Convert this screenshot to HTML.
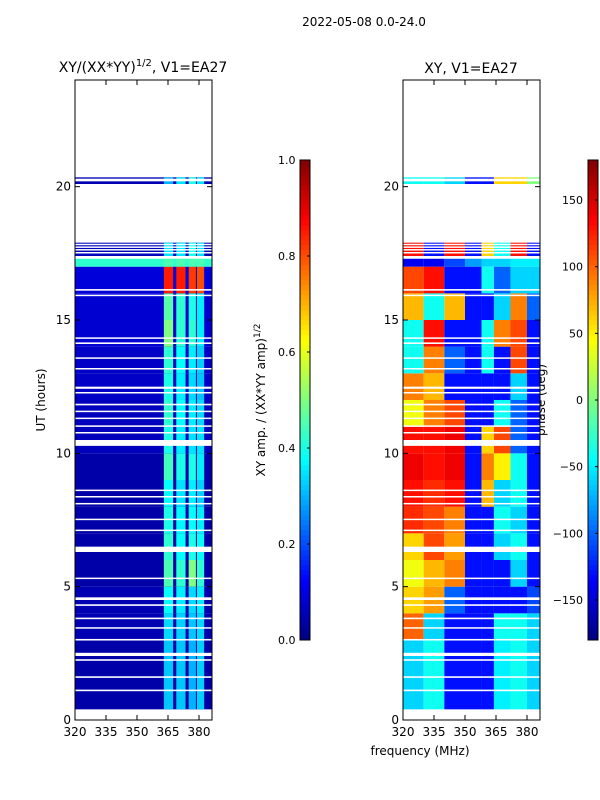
<!DOCTYPE html>
<html><head><meta charset="utf-8"><style>
body{margin:0;background:#fff;}
svg{display:block;font-family:"DejaVu Sans","Liberation Sans",sans-serif;}
</style></head><body>
<svg id="fig" width="600" height="800" viewBox="0 0 600 800">
<rect width="600" height="800" fill="#fff"/>
<text x="364" y="26" font-size="12" text-anchor="middle">2022-05-08 0.0-24.0</text>
<text x="143" y="72" font-size="14" text-anchor="middle">XY/(XX*YY)<tspan font-size="10" dy="-6">1/2</tspan><tspan dy="6">, V1=EA27</tspan></text>
<text x="471" y="73" font-size="14" text-anchor="middle">XY, V1=EA27</text>
<text transform="translate(45,400) rotate(-90)" font-size="12" text-anchor="middle">UT (hours)</text>
<text x="420" y="755" font-size="12" text-anchor="middle">frequency (MHz)</text>
<text transform="translate(265,400) rotate(-90)" font-size="12" text-anchor="middle">XY amp. / (XX*YY amp)<tspan font-size="9" dy="-5">1/2</tspan></text>
<text transform="translate(545,400) rotate(-90)" font-size="12" text-anchor="middle">phase (deg)</text>
<g id="left"></g>
<g id="right"></g>
<g id="cbl"></g>
<g id="cbr"></g>
</svg>
<script>
// time rows (hours) [start,end]
const timeRows=[[0.4,3],[3,4],[4,5],[5,6],[6,7],[7,8],[8,9],[9,10],[10,11],[11,12],[12,13],[13,14],[14,15],[15,16],[16,17],[17,17.3],[17.4,17.9],[20.1,20.35]];
// amplitude panel
const ampBase=[0.04,0.05,0.05,0.04,0.04,0.04,0.04,0.04,0.06,0.06,0.07,0.07,0.08,0.08,0.09,0.42,0.06,0.05];
const ampBands=[[363,367.5],[369,373.5],[375,378.5],[379,382.5]];
const ampBandVals=[
[0.32,0.32,0.3,0.33],[0.34,0.33,0.32,0.34],[0.38,0.36,0.34,0.36],[0.45,0.42,0.5,0.42],[0.42,0.38,0.4,0.38],
[0.4,0.37,0.38,0.36],[0.38,0.35,0.36,0.33],[0.44,0.4,0.4,0.36],[0.4,0.36,0.35,0.35],[0.42,0.38,0.36,0.34],
[0.4,0.36,0.34,0.32],[0.42,0.38,0.36,0.33],[0.5,0.42,0.42,0.36],[0.46,0.42,0.4,0.36],[0.85,0.85,0.82,0.8],
[0.45,0.45,0.45,0.45],[0.35,0.35,0.4,0.35],[0.3,0.35,0.4,0.35]];
// phase panel
const phaseFreqEdges=[320,330,340,350,358,364,372,380,386.3];
const phaseVals=[
[-60,-40,-130,-130,-130,-50,-40,-60],[100,-60,-130,-130,-130,-40,-40,-60],[60,80,-100,-130,-130,-130,-130,-110],
[40,70,90,-130,-130,-130,-60,-130],[60,110,80,-130,-130,-60,-40,-130],[120,110,90,-130,-130,-40,-60,-130],
[130,120,130,-130,70,-60,-40,-130],[140,130,140,-130,90,50,-40,-130],[130,130,140,-130,60,110,-100,-130],
[40,90,110,-130,-130,-40,-100,-130],[90,70,-130,-130,-130,-130,-60,-130],[-40,90,-100,-130,-40,-130,110,-130],
[-40,130,-130,-130,-40,90,110,-130],[70,-40,70,-130,-130,-60,90,-100],[110,130,-130,-130,-40,-100,-60,-60],
[-140,-140,-110,-80,-60,-60,-50,-50],[130,-130,130,-130,60,-40,130,-130],[-40,-40,-60,-130,-130,60,60,0]];
// gaps (white, no data) [start,end] hours
const gaps=[[1.08,1.14],[1.58,1.64],[2.22,2.28],[2.4,2.52],[2.98,3.04],[3.43,3.48],[3.78,3.84],[4.28,4.34],[4.5,4.6],[5.3,5.34],[6.3,6.5],[7.1,7.14],[7.5,7.55],[8.1,8.14],[8.35,8.4],[8.6,8.64],[10.28,10.5],[10.75,10.8],[11.0,11.05],[11.3,11.34],[11.55,11.6],[11.8,11.86],[12.25,12.3],[12.42,12.5],[13.15,13.2],[13.55,13.6],[14.1,14.16],[14.3,14.35],[15.9,15.95],[16.1,16.16],[17.3,17.4],[17.5,17.55],[17.62,17.66],[17.72,17.76],[17.82,17.86],[20.2,20.3]];
const yTicks=[0,5,10,15,20];
const xTicks=[320,335,350,365,380];
const ampTicks=[0.0,0.2,0.4,0.6,0.8,1.0];
const phaseTicks=[-150,-100,-50,0,50,100,150];

const NS='http://www.w3.org/2000/svg';
function jet(v){v=Math.max(0,Math.min(1,v));
 const r=Math.max(0,Math.min(1,1.5-Math.abs(4*v-3))),g=Math.max(0,Math.min(1,1.5-Math.abs(4*v-2))),b=Math.max(0,Math.min(1,1.5-Math.abs(4*v-1)));
 return `rgb(${Math.round(r*255)},${Math.round(g*255)},${Math.round(b*255)})`;}
function mk(parent,tag,attrs){const e=document.createElementNS(NS,tag);for(const k in attrs)e.setAttribute(k,attrs[k]);parent.appendChild(e);return e;}
const yS=h=>720-h*(640/24);
function xSf(x0){return f=>x0+(f-320)*(124/60);}
const W=137;

function axes(g,x0){
  const xs=xSf(x0);
  mk(g,'rect',{x:x0,y:80,width:W,height:640,fill:'none',stroke:'#000','stroke-width':1});
  yTicks.forEach(t=>{const y=yS(t);
    mk(g,'line',{x1:x0,x2:x0+5,y1:y,y2:y,stroke:'#000'});mk(g,'line',{x1:x0+W-5,x2:x0+W,y1:y,y2:y,stroke:'#000'});
    const tx=mk(g,'text',{x:x0-4,y:y+4,'font-size':12,'text-anchor':'end'});tx.textContent=t;
    
    });
  xTicks.forEach(t=>{const x=xs(t);
    mk(g,'line',{x1:x,x2:x,y1:720,y2:715,stroke:'#000'});mk(g,'line',{x1:x,x2:x,y1:80,y2:85,stroke:'#000'});
    const tx=mk(g,'text',{x:x,y:736,'font-size':12,'text-anchor':'middle'});tx.textContent=t;
    
    });
}
function gapRects(g,x0){gaps.forEach(gp=>{const r=mk(g,'rect',{x:x0+0.5,y:yS(gp[1]),width:W-1,height:Math.max(1.5,yS(gp[0])-yS(gp[1])),fill:'#fff'});
  
  });}

// left
(function(){const g=document.getElementById('left');const x0=75,xs=xSf(x0);
 timeRows.forEach((tr,i)=>{const y1=yS(tr[1]),h=yS(tr[0])-y1;
   const r=mk(g,'rect',{x:x0,y:y1,width:W,height:h,fill:jet(ampBase[i])});
   
   
   ampBands.forEach((b,j)=>{const c=mk(g,'rect',{x:xs(b[0]),y:y1,width:xs(b[1])-xs(b[0]),height:h,fill:jet(ampBandVals[i][j])});
     
     });});
 gapRects(g,x0);axes(g,x0);})();
// right
(function(){const g=document.getElementById('right');const x0=403,xs=xSf(x0);
 timeRows.forEach((tr,i)=>{const y1=yS(tr[1]),h=yS(tr[0])-y1;
   for(let j=0;j<phaseFreqEdges.length-1;j++){
     const a=xs(phaseFreqEdges[j]),b=Math.min(x0+W,xs(phaseFreqEdges[j+1]));
     const c=mk(g,'rect',{x:a,y:y1,width:b-a,height:h,fill:jet((phaseVals[i][j]+180)/360)});
     
     }});
 gapRects(g,x0);axes(g,x0);})();
// colorbars
function colorbar(id,x,min,max,ticks,fmt,lx,anchor){const g=document.getElementById(id);
 for(let k=0;k<96;k++){mk(g,'rect',{x:x,y:640-(k+1)*5,width:10,height:5.3,fill:jet((k+0.5)/96)});}
 mk(g,'rect',{x:x,y:160,width:10,height:480,fill:'none',stroke:'#000'});
 ticks.forEach(t=>{const y=640-(t-min)/(max-min)*480;
  mk(g,'line',{x1:x+7,x2:x+10,y1:y,y2:y,stroke:'#000'});
  const tx=mk(g,'text',{x:lx,y:y+4,'font-size':11,'text-anchor':anchor});tx.textContent=fmt(t);
  
  });}
colorbar('cbl',300,0,1,ampTicks,t=>t.toFixed(1),278,'start');
colorbar('cbr',588,-180,180,phaseTicks,t=>t<0?'\u2212'+(-t):String(t),583,'end');
</script>
</body></html>
